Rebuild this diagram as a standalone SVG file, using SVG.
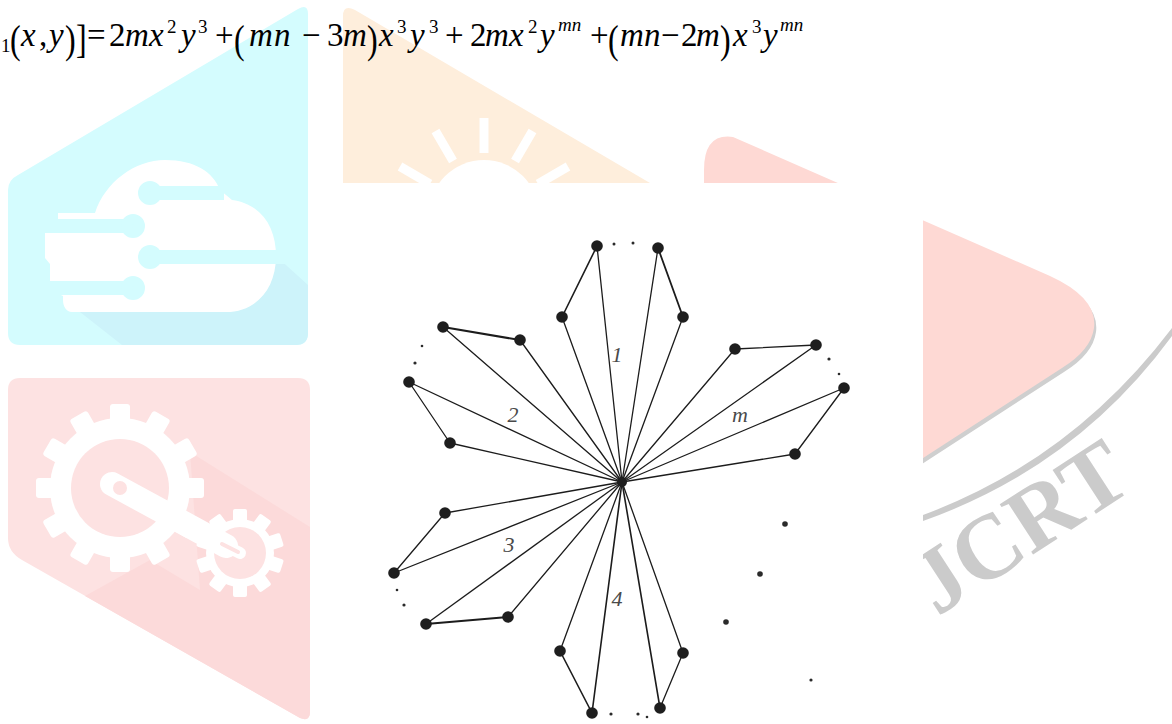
<svg xmlns="http://www.w3.org/2000/svg" xmlns:xlink="http://www.w3.org/1999/xlink" width="1172" height="724" viewBox="0 0 1172 724">
<style>
.f{font-family:"Liberation Serif","Times New Roman",serif;font-size:33px;fill:#000}
.fi{font-family:"Liberation Serif","Times New Roman",serif;font-size:33px;font-style:italic;fill:#000}
.fs{font-family:"Liberation Serif","Times New Roman",serif;font-size:19px;fill:#000}
.fsi{font-family:"Liberation Serif","Times New Roman",serif;font-size:19px;font-style:italic;fill:#000}
.fp{font-family:"Liberation Serif","Times New Roman",serif;font-size:32px;fill:#000}
.e{stroke:#1c1c1c;stroke-width:1.3;fill:none;stroke-linecap:round}
.et{stroke:#1c1c1c;stroke-width:2.1;fill:none;stroke-linecap:round}
.n{fill:#1e1e1e}
.d{fill:#2a2a2a}
.lbl{font-family:"Liberation Serif","Times New Roman",serif;font-size:22px;font-style:italic;fill:#4a4a4a;text-anchor:middle}
.wm-c{fill:#d4fcfe}
.wm-o{fill:#feeedc}
.wm-p{fill:#fde2e2}
.wm-r{fill:#fed9d4}
.wm-g{fill:#cbcbcb}
.w{fill:#ffffff}
</style>
<defs>
<rect id="bt" x="110" y="404" width="20" height="20" rx="3"/>
<rect id="st" x="233" y="509" width="14" height="16" rx="2"/>
</defs>
<rect width="1172" height="724" fill="#ffffff"/>
<g id="watermark">
  <path class="wm-c" d="M20,345 Q8,345 8,333 L8,190 Q8,180 18,175 L298,9 Q308,3 308,14 L308,333 Q308,345 296,345 Z"/>
  <path fill="#cdf3fa" d="M80,312 L226,312 L270,285 L276,256 L308,285 L308,333 Q308,345 296,345 L122,345 Z"/>
  <path class="w" d="M58,213 L95,213 C105,182 135,160 165,160 C195,160 213,172 220,190 L232,200 C262,204 276,228 276,256 C276,290 255,312 226,312 L72,312 C66,312 63,306 63,300 L63,296 L50,290 L50,264 L45,258 L45,231 L58,225 Z"/>
  <g stroke="#d4fcfe" stroke-width="14" fill="#d4fcfe">
    <line x1="150" y1="193" x2="224" y2="193"/>
    <line x1="30" y1="226" x2="133" y2="226"/>
    <line x1="150" y1="257" x2="290" y2="257"/>
    <line x1="30" y1="288" x2="133" y2="288"/>
    <circle cx="150" cy="193" r="5"/>
    <circle cx="133" cy="226" r="5"/>
    <circle cx="150" cy="257" r="5"/>
    <circle cx="133" cy="288" r="5"/>
  </g>
  <path class="wm-p" d="M20,378 L298,378 Q310,378 310,390 L310,712 Q310,722 300,718 L22,560 Q8,552 8,538 L8,390 Q8,378 20,378 Z"/>
  <path fill="#fcdada" d="M190,452 L310,527 L310,712 Q310,722 300,718 L85,596 L150,560 L200,590 Z"/>
  <g fill="#ffffff">
    <circle cx="120" cy="488" r="70"/>
    <use xlink:href="#bt"/>
    <use xlink:href="#bt" transform="rotate(30 120 488)"/>
    <use xlink:href="#bt" transform="rotate(60 120 488)"/>
    <use xlink:href="#bt" transform="rotate(90 120 488)"/>
    <use xlink:href="#bt" transform="rotate(120 120 488)"/>
    <use xlink:href="#bt" transform="rotate(150 120 488)"/>
    <use xlink:href="#bt" transform="rotate(180 120 488)"/>
    <use xlink:href="#bt" transform="rotate(210 120 488)"/>
    <use xlink:href="#bt" transform="rotate(240 120 488)"/>
    <use xlink:href="#bt" transform="rotate(270 120 488)"/>
    <use xlink:href="#bt" transform="rotate(300 120 488)"/>
    <use xlink:href="#bt" transform="rotate(330 120 488)"/>
    <circle cx="240" cy="553" r="34"/>
    <use xlink:href="#st"/>
    <use xlink:href="#st" transform="rotate(36 240 553)"/>
    <use xlink:href="#st" transform="rotate(72 240 553)"/>
    <use xlink:href="#st" transform="rotate(108 240 553)"/>
    <use xlink:href="#st" transform="rotate(144 240 553)"/>
    <use xlink:href="#st" transform="rotate(180 240 553)"/>
    <use xlink:href="#st" transform="rotate(216 240 553)"/>
    <use xlink:href="#st" transform="rotate(252 240 553)"/>
    <use xlink:href="#st" transform="rotate(288 240 553)"/>
    <use xlink:href="#st" transform="rotate(324 240 553)"/>
  </g>
  <circle class="wm-p" cx="120" cy="488" r="49"/>
  <circle class="wm-p" cx="240" cy="553" r="26"/>
  <line x1="112" y1="484" x2="226" y2="546" stroke="#ffffff" stroke-width="24" stroke-linecap="round"/>
  <line x1="226" y1="546" x2="240" y2="553" stroke="#ffffff" stroke-width="12" stroke-linecap="round"/>
  <line x1="222" y1="544" x2="238" y2="552" stroke="#fde2e2" stroke-width="4" stroke-linecap="round"/>
  <circle class="wm-p" cx="120" cy="488" r="7"/>
  <path class="wm-o" d="M343,183 L343,16 Q343,4 355,10 L650,183 Z"/>
  <circle class="w" cx="484" cy="215" r="55"/>
  <g stroke="#ffffff" stroke-width="9">
    <line x1="484" y1="153" x2="484" y2="118"/>
    <line x1="453" y1="161" x2="435.5" y2="131"/>
    <line x1="515" y1="161" x2="532.5" y2="131"/>
    <line x1="430" y1="184" x2="400" y2="166.5"/>
    <line x1="538" y1="184" x2="568" y2="166.5"/>
  </g>
  <path fill="#cfcfcf" transform="translate(2,4)" d="M704,600 L704,170 Q704,133 733,137 L1050,276 Q1098,298 1094,328 Q1091,350 1062,368 Z"/>
  <path class="wm-r" d="M704,600 L704,170 Q704,133 733,137 L1050,276 Q1098,298 1094,328 Q1091,350 1062,368 Z"/>
  <path class="wm-g" d="M923,515 Q1072,460 1172,328 L1172,336 Q1076,467 923,521 Z"/>
  <text class="wm-g" transform="translate(937,617) rotate(-33)" font-family="Liberation Serif, serif" font-weight="bold" font-size="92">JCRT</text>
</g>
<rect class="w" x="330" y="183" width="593" height="541"/>
<g id="formula">
  <text class="fs" x="1" y="52">1</text>
  <text class="fp" transform="translate(10,53) scale(1,1.25)">(</text>
  <text class="fi" x="21" y="46">x</text>
  <text class="f" x="39" y="46">,</text>
  <text class="fi" x="49" y="46">y</text>
  <text class="fp" transform="translate(65,53) scale(1,1.25)">)</text>
  <text class="fp" transform="translate(76,53) scale(1,1.25)">]</text>
  <text class="f" x="87" y="46">=</text>
  <text class="f" x="109" y="46">2</text>
  <text class="fi" x="125" y="46">m</text>
  <text class="fi" x="149" y="46">x</text>
  <text class="fs" x="167" y="33">2</text>
  <text class="fi" x="181" y="46">y</text>
  <text class="fs" x="198" y="33">3</text>
  <text class="f" x="215" y="46">+</text>
  <text class="fp" transform="translate(234,53) scale(1,1.25)">(</text>
  <text class="fi" x="249" y="46">m</text>
  <text class="fi" x="274" y="46">n</text>
  <text class="f" x="302" y="46">−</text>
  <text class="f" x="327" y="46">3</text>
  <text class="fi" x="343" y="46">m</text>
  <text class="fp" transform="translate(367,53) scale(1,1.25)">)</text>
  <text class="fi" x="379" y="46">x</text>
  <text class="fs" x="397" y="33">3</text>
  <text class="fi" x="410" y="46">y</text>
  <text class="fs" x="429" y="33">3</text>
  <text class="f" x="445" y="46">+</text>
  <text class="f" x="470" y="46">2</text>
  <text class="fi" x="485" y="46">m</text>
  <text class="fi" x="509" y="46">x</text>
  <text class="fs" x="528" y="33">2</text>
  <text class="fi" x="540" y="46">y</text>
  <text class="fsi" x="558" y="31">mn</text>
  <text class="f" x="590" y="46">+</text>
  <text class="fp" transform="translate(608,53) scale(1,1.25)">(</text>
  <text class="fi" x="620" y="46">m</text>
  <text class="fi" x="644" y="46">n</text>
  <text class="f" x="661" y="46">−</text>
  <text class="f" x="681" y="46">2</text>
  <text class="fi" x="696" y="46">m</text>
  <text class="fp" transform="translate(720,53) scale(1,1.25)">)</text>
  <text class="fi" x="733" y="46">x</text>
  <text class="fs" x="752" y="33">3</text>
  <text class="fi" x="763" y="46">y</text>
  <text class="fsi" x="780" y="31">mn</text>
</g>
<g id="connectors">
  <line class="e" x1="562" y1="317" x2="597" y2="246" style="stroke-width:1.6"/>
  <line class="e" x1="597" y1="246" x2="622" y2="482"/>
  <line class="e" x1="658" y1="248" x2="622" y2="482"/>
  <line class="e" x1="658" y1="248" x2="683" y2="317" style="stroke-width:1.8"/>
  <line class="e" x1="562" y1="317" x2="622" y2="482"/>
  <line class="e" x1="683" y1="317" x2="622" y2="482"/>
  <line class="et" x1="443" y1="327" x2="520" y2="340"/>
  <line class="e" x1="443" y1="327" x2="622" y2="482"/>
  <line class="e" x1="520" y1="340" x2="622" y2="482"/>
  <line class="e" x1="409" y1="382" x2="622" y2="482"/>
  <line class="e" x1="409" y1="382" x2="450" y2="443"/>
  <line class="e" x1="450" y1="443" x2="622" y2="482"/>
  <line class="e" x1="735" y1="349" x2="816" y2="345"/>
  <line class="e" x1="735" y1="349" x2="622" y2="482"/>
  <line class="e" x1="816" y1="345" x2="622" y2="482"/>
  <line class="e" x1="844" y1="388" x2="622" y2="482"/>
  <line class="e" x1="844" y1="388" x2="795" y2="454"/>
  <line class="e" x1="795" y1="454" x2="622" y2="482"/>
  <line class="e" x1="445" y1="513" x2="622" y2="482"/>
  <line class="e" x1="445" y1="513" x2="394" y2="573"/>
  <line class="e" x1="394" y1="573" x2="622" y2="482"/>
  <line class="e" x1="426" y1="624" x2="622" y2="482"/>
  <line class="et" x1="426" y1="624" x2="508" y2="617"/>
  <line class="e" x1="508" y1="617" x2="622" y2="482"/>
  <line class="e" x1="560" y1="651" x2="622" y2="482"/>
  <line class="e" x1="560" y1="651" x2="592" y2="713" style="stroke-width:1.6"/>
  <line class="e" x1="592" y1="713" x2="622" y2="482" style="stroke-width:1.6"/>
  <line class="e" x1="660" y1="708" x2="622" y2="482" style="stroke-width:1.6"/>
  <line class="e" x1="660" y1="708" x2="683" y2="653"/>
  <line class="e" x1="683" y1="653" x2="622" y2="482"/>
</g>
<g id="node-center"><circle class="n" cx="622" cy="482" r="5"/></g>
<g id="node-1a"><circle class="n" cx="597" cy="246" r="5.8"/></g>
<g id="node-1b"><circle class="n" cx="658" cy="248" r="5.8"/></g>
<g id="node-1c"><circle class="n" cx="562" cy="317" r="5.8"/></g>
<g id="node-1d"><circle class="n" cx="683" cy="317" r="5.8"/></g>
<g id="node-2a"><circle class="n" cx="443" cy="327" r="5.8"/></g>
<g id="node-2b"><circle class="n" cx="520" cy="340" r="5.8"/></g>
<g id="node-2c"><circle class="n" cx="409" cy="382" r="5.8"/></g>
<g id="node-2d"><circle class="n" cx="450" cy="443" r="5.8"/></g>
<g id="node-ma"><circle class="n" cx="735" cy="349" r="5.8"/></g>
<g id="node-mb"><circle class="n" cx="816" cy="345" r="5.8"/></g>
<g id="node-mc"><circle class="n" cx="844" cy="388" r="5.8"/></g>
<g id="node-md"><circle class="n" cx="795" cy="454" r="5.8"/></g>
<g id="node-3a"><circle class="n" cx="445" cy="513" r="5.8"/></g>
<g id="node-3b"><circle class="n" cx="394" cy="573" r="5.8"/></g>
<g id="node-3c"><circle class="n" cx="426" cy="624" r="5.8"/></g>
<g id="node-3d"><circle class="n" cx="508" cy="617" r="5.8"/></g>
<g id="node-4a"><circle class="n" cx="560" cy="651" r="5.8"/></g>
<g id="node-4b"><circle class="n" cx="592" cy="713" r="5.8"/></g>
<g id="node-4c"><circle class="n" cx="660" cy="708" r="5.8"/></g>
<g id="node-4d"><circle class="n" cx="683" cy="653" r="5.8"/></g>
<g id="ellipsis-dots">
  <circle class="d" cx="614" cy="244" r="1.5"/>
  <circle class="d" cx="633" cy="243" r="1.5"/>
  <circle class="d" cx="422" cy="346" r="1.3"/>
  <circle class="d" cx="415" cy="363" r="1.6"/>
  <circle class="d" cx="829" cy="359" r="1.6"/>
  <circle class="d" cx="839" cy="374" r="1.3"/>
  <circle class="d" cx="397" cy="590" r="1.3"/>
  <circle class="d" cx="404" cy="605" r="1.6"/>
  <circle class="d" cx="611" cy="714" r="1.6"/>
  <circle class="d" cx="638" cy="714" r="1.6"/>
  <circle class="d" cx="647" cy="717" r="1.3"/>
  <circle class="d" cx="785" cy="524" r="2.8"/>
  <circle class="d" cx="760" cy="574" r="2.8"/>
  <circle class="d" cx="726" cy="622" r="2.8"/>
  <circle class="d" cx="811" cy="680" r="1.6"/>
</g>
<g id="labels">
  <text class="lbl" x="617" y="362">1</text>
  <text class="lbl" x="513" y="422">2</text>
  <text class="lbl" x="740" y="422">m</text>
  <text class="lbl" x="509" y="552">3</text>
  <text class="lbl" x="617" y="606">4</text>
</g>
</svg>
